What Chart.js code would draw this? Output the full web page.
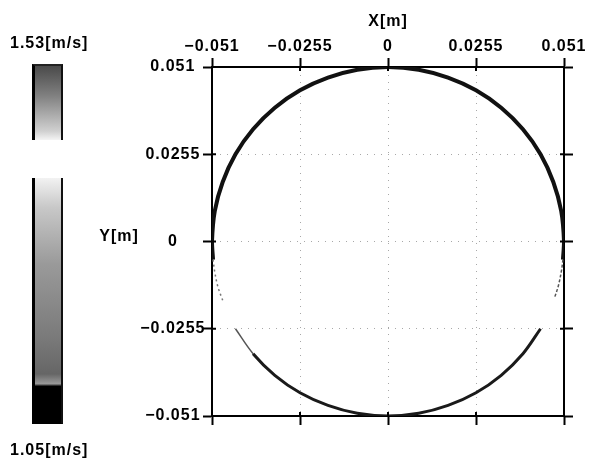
<!DOCTYPE html>
<html><head><meta charset="utf-8">
<script src="https://cdn.jsdelivr.net/npm/chart.js@4/dist/chart.umd.min.js"></script>
<style>
body{margin:0;background:#fff;}
#wrap{position:relative;width:591px;height:465px;overflow:hidden;}
canvas{position:absolute;left:0;top:0;}
.lbl{position:absolute;font:bold 16px "Liberation Sans",Arial,sans-serif;color:#000;white-space:nowrap;letter-spacing:1px;}
.cb{position:absolute;box-sizing:border-box;border-left:3px solid #000;border-right:2px solid #111;}
</style></head><body>
<div id="wrap">
<canvas id="c" width="591" height="465"></canvas>
<div class="lbl" id="cbTop" style="left:10px;top:34px;"></div>
<div class="cb" style="left:32px;top:64px;width:31px;height:76px;border-top:2px solid #222;background:linear-gradient(#4a4a4a,#808080 40%,#d0d0d0 88%,#f4f4f4);"></div>
<div class="cb" style="left:32px;top:178px;width:31px;height:246px;border-bottom:1px solid #000;background:linear-gradient(#f2f2f2,#c8c8c8 12%,#9a9a9a 35%,#7a7a7a 65%,#666 80%,#999 84%,#000 85%,#000);"></div>
<div class="lbl" id="cbBot" style="left:10px;top:441px;"></div>
</div>
<script>
// tick values / labels
const tickValues = [-0.051, -0.0255, 0, 0.0255, 0.051];
const tickLabels = ['\u22120.051', '\u22120.0255', '0', '0.0255', '0.051'];
const colorbarLabels = ['1.53[m/s]', '1.05[m/s]'];
const xTitle = 'X[m]';
const yTitle = 'Y[m]';

// upper (dark) arc
const upperX = [0.0507, 0.0510, 0.0502, 0.0479, 0.0442, 0.0391, 0.0328, 0.0255, 0.0174, 0.0089, 0.0, -0.0089, -0.0174, -0.0255, -0.0328, -0.0391, -0.0442, -0.0479, -0.0502, -0.0510, -0.0507];
const upperY = [-0.0053, 0.0, 0.0089, 0.0174, 0.0255, 0.0328, 0.0391, 0.0442, 0.0479, 0.0502, 0.0510, 0.0502, 0.0479, 0.0442, 0.0391, 0.0328, 0.0255, 0.0174, 0.0089, 0.0, -0.0053];
// faint left part
const faintLeftX = [-0.0507, -0.0502, -0.0493, -0.0479];
const faintLeftY = [-0.0053, -0.0089, -0.0132, -0.0172];
// faint right part
const faintRightX = [0.0507, 0.0502, 0.0493, 0.0482];
const faintRightY = [-0.0053, -0.0089, -0.0132, -0.0166];
// lower arc
const lowerX = [-0.0442, -0.0391, -0.0328, -0.0255, -0.0174, -0.0089, 0.0, 0.0089, 0.0174, 0.0255, 0.0328, 0.0391, 0.0442];
const lowerY = [-0.0255, -0.0328, -0.0391, -0.0442, -0.0479, -0.0502, -0.0510, -0.0502, -0.0479, -0.0442, -0.0391, -0.0328, -0.0255];

document.getElementById('cbTop').textContent = colorbarLabels[0];
document.getElementById('cbBot').textContent = colorbarLabels[1];

const pts = (xs, ys) => xs.map((x, i) => ({x: x, y: ys[i]}));
const FONT = {family: '"Liberation Sans", Arial, sans-serif', size: 16, weight: 'bold'};

function setTicks(s) { s.ticks = tickValues.map(v => ({value: v})); }

const baseScale = (pos, extra) => Object.assign({
  type: 'linear', position: pos, min: -0.051, max: 0.051,
  afterBuildTicks: setTicks,
  ticks: {callback: (v, i) => tickLabels[i], font: FONT, color: '#000', autoSkip: false, maxRotation: 0},
  grid: {color: '#a8a8a8', lineWidth: 1, tickColor: '#000', tickLength: 9, tickWidth: 2},
  border: {display: true, color: '#000', width: 2, dash: [1, 6]}
}, extra);

const spacing = {
  id: 'spacing',
  beforeDraw(chart) { chart.ctx.letterSpacing = '1px'; }
};

const innerTicks = {
  id: 'innerTicks',
  afterDraw(chart) {
    const ctx = chart.ctx, a = chart.chartArea;
    const xs = chart.scales.x, ys = chart.scales.y;
    ctx.save();
    ctx.strokeStyle = '#000'; ctx.lineWidth = 2;
    tickValues.forEach(v => {
      const px = xs.getPixelForValue(v), py = ys.getPixelForValue(v);
      ctx.beginPath();
      ctx.moveTo(px, a.top); ctx.lineTo(px, a.top + 4);
      ctx.moveTo(px, a.bottom); ctx.lineTo(px, a.bottom - 4);
      ctx.moveTo(a.left, py); ctx.lineTo(a.left + 4, py);
      ctx.moveTo(a.right, py); ctx.lineTo(a.right - 4, py);
      ctx.stroke();
    });
    ctx.fillStyle = '#000';
    ctx.font = 'bold 16px "Liberation Sans", Arial, sans-serif';
    ctx.textAlign = 'center'; ctx.textBaseline = 'middle';
    ctx.fillText(yTitle, 119, 237);
    ctx.restore();
  }
};

new Chart(document.getElementById('c'), {
  type: 'scatter',
  data: {
    datasets: [
      {data: pts(faintLeftX, faintLeftY), showLine: true, borderColor: '#777', borderWidth: 1.5, borderDash: [2, 3], pointRadius: 0, tension: 0.35},
      {data: pts(faintRightX, faintRightY), showLine: true, borderColor: '#555', borderWidth: 1.5, borderDash: [3, 2], pointRadius: 0, tension: 0.35},
      {data: pts(lowerX, lowerY), showLine: true, borderColor: '#1a1a1a', borderWidth: 3, pointRadius: 0, tension: 0.35,
        segment: {borderWidth: c => c.p0DataIndex === 0 ? 1.5 : 3, borderColor: c => c.p0DataIndex === 0 ? '#555' : '#1a1a1a'}},
      {data: pts(upperX, upperY), showLine: true, borderColor: '#111', borderWidth: 4, pointRadius: 0, tension: 0.35}
    ]
  },
  options: {
    responsive: false, animation: false,
    layout: {padding: 0},
    plugins: {legend: {display: false}, tooltip: {enabled: false}},
    scales: {
      x: baseScale('top', {
        ticks: {callback: (v, i) => tickLabels[i], font: FONT, color: '#000', autoSkip: false, maxRotation: 0, padding: 2},
        title: {display: true, text: xTitle, font: FONT, color: '#000', padding: {top: 12, bottom: 0}},
        afterFit: s => { s.height = 67; }
      }),
      x2: baseScale('bottom', {
        axis: 'x',
        ticks: {display: false},
        grid: {drawOnChartArea: false, tickColor: '#000', tickLength: 9, tickWidth: 2},
        afterFit: s => { s.height = 49; }
      }),
      y: baseScale('left', {
        ticks: {callback: (v, i) => tickLabels[i], font: FONT, color: '#000', autoSkip: false, crossAlign: 'center', padding: 1},
        afterFit: s => { s.width = 212; }
      }),
      y2: baseScale('right', {
        axis: 'y',
        ticks: {display: false},
        grid: {drawOnChartArea: false, tickColor: '#000', tickLength: 9, tickWidth: 2},
        afterFit: s => { s.width = 27; }
      })
    }
  },
  plugins: [spacing, innerTicks]
});
</script>
</body></html>
